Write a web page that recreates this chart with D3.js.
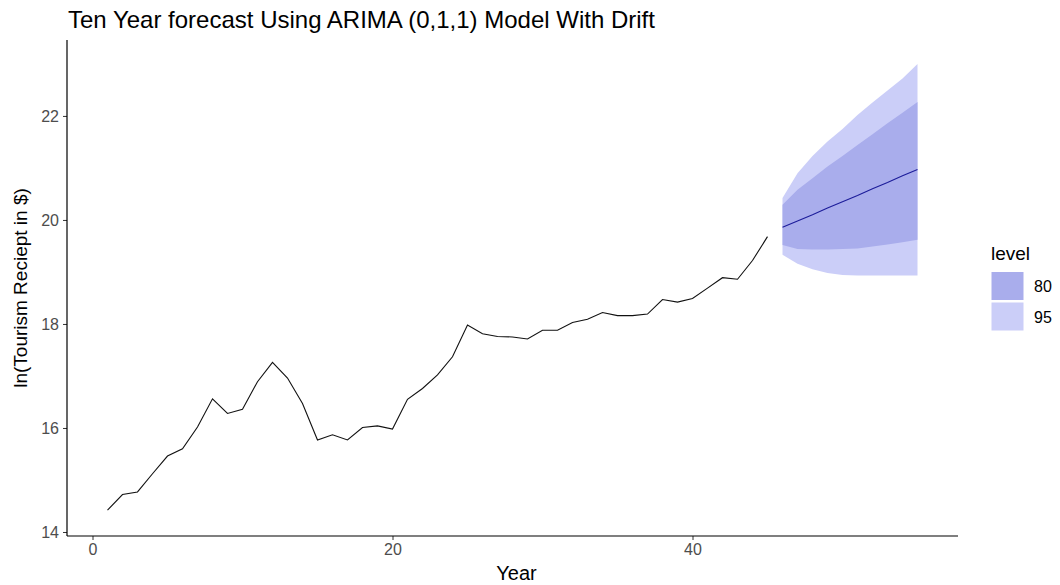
<!DOCTYPE html>
<html>
<head>
<meta charset="utf-8">
<script src="https://cdn.jsdelivr.net/npm/d3@7"></script>
<style>
  html, body { margin: 0; padding: 0; background: #fff; }
  svg { display: block; font-family: "Liberation Sans", Arial, sans-serif; }
</style>
</head>
<body>
<svg id="chart" width="1060" height="585"></svg>
<script>
// Observed series: ln(tourism receipts), years 1..45
const years = d3.range(1, 46);
const receipts = [
  14.42, 14.72, 14.77, 15.12, 15.46, 15.60, 16.02, 16.56, 16.28, 16.36,
  16.89, 17.26, 16.96, 16.47, 15.77, 15.87, 15.77, 16.01, 16.04, 15.98,
  16.55, 16.76, 17.02, 17.37, 17.98, 17.81, 17.76, 17.75, 17.71, 17.88,
  17.88, 18.03, 18.09, 18.22, 18.16, 18.16, 18.19, 18.47, 18.42, 18.49,
  18.69, 18.89, 18.86, 19.22, 19.68
];

// Ten-year forecast, years 46..55
const forecastYears = d3.range(46, 56);
const forecastMean = [19.86, 19.98, 20.10, 20.23, 20.35, 20.47, 20.60, 20.72, 20.85, 20.97];
const lo80 = [19.52, 19.44, 19.43, 19.43, 19.44, 19.45, 19.49, 19.53, 19.57, 19.62];
const hi80 = [20.29, 20.58, 20.80, 21.03, 21.23, 21.44, 21.65, 21.86, 22.06, 22.27];
const lo95 = [19.33, 19.16, 19.05, 18.98, 18.94, 18.93, 18.93, 18.93, 18.93, 18.93];
const hi95 = [20.42, 20.90, 21.23, 21.51, 21.75, 22.02, 22.26, 22.49, 22.72, 23.00];

const xTicks = [0, 20, 40];
const yTicks = [14, 16, 18, 20, 22];
const levels = ["80", "95"];
const levelColors = { "80": "#a9adec", "95": "#cbcef8" };

const svg = d3.select("#chart");
const panel = { left: 67, right: 958, top: 40, bottom: 536 };

const x = d3.scaleLinear().domain([-1.7, 57.7]).range([panel.left, panel.right]);
const y = d3.scaleLinear().domain([13.923, 23.46]).range([panel.bottom, panel.top]);

// Prediction intervals (95 first, 80 on top)
const bands = [
  { level: "95", lo: lo95, hi: hi95 },
  { level: "80", lo: lo80, hi: hi80 }
];
const area = d3.area()
  .x(d => x(d.t))
  .y0(d => y(d.lo))
  .y1(d => y(d.hi));
svg.append("g").selectAll("path")
  .data(bands)
  .join("path")
  .attr("d", b => area(forecastYears.map((t, i) => ({ t, lo: b.lo[i], hi: b.hi[i] }))))
  .attr("fill", b => levelColors[b.level]);

// Observed line
const line = d3.line().x(d => x(d[0])).y(d => y(d[1]));
svg.append("path")
  .attr("d", line(years.map((t, i) => [t, receipts[i]])))
  .attr("fill", "none")
  .attr("stroke", "#111")
  .attr("stroke-width", 1.1);

// Forecast mean
svg.append("path")
  .attr("d", line(forecastYears.map((t, i) => [t, forecastMean[i]])))
  .attr("fill", "none")
  .attr("stroke", "#1c1c9a")
  .attr("stroke-width", 1.1);

// Axes
const xAxis = d3.axisBottom(x).tickValues(xTicks).tickSize(4).tickPadding(4).tickFormat(d3.format("d"));
const yAxis = d3.axisLeft(y).tickValues(yTicks).tickSize(4).tickPadding(4).tickFormat(d3.format("d"));

const gx = svg.append("g").attr("transform", `translate(0,${panel.bottom})`).call(xAxis);
const gy = svg.append("g").attr("transform", `translate(${panel.left},0)`).call(yAxis);
[gx, gy].forEach(g => {
  g.select(".domain").remove();
  g.selectAll(".tick line").attr("stroke", "#333").attr("stroke-width", 1);
  g.selectAll(".tick text").attr("fill", "#4d4d4d").style("font-size", "16px")
    .style("font-family", "'Liberation Sans', Arial, sans-serif");
});
svg.append("line")
  .attr("x1", panel.left).attr("x2", panel.right)
  .attr("y1", panel.bottom).attr("y2", panel.bottom)
  .attr("stroke", "#000").attr("stroke-width", 1.2);
svg.append("line")
  .attr("x1", panel.left).attr("x2", panel.left)
  .attr("y1", panel.top).attr("y2", panel.bottom)
  .attr("stroke", "#000").attr("stroke-width", 1.2);

// Titles
svg.append("text")
  .attr("x", 68).attr("y", 28)
  .attr("fill", "#000")
  .style("font-size", "24px")
  .text("Ten Year forecast Using ARIMA (0,1,1) Model With Drift");

svg.append("text")
  .attr("x", (panel.left + panel.right) / 2 + 4).attr("y", 580)
  .attr("text-anchor", "middle")
  .attr("fill", "#000")
  .style("font-size", "20px")
  .text("Year");

svg.append("text")
  .attr("transform", `translate(27,${(panel.top + panel.bottom) / 2}) rotate(-90)`)
  .attr("text-anchor", "middle")
  .attr("fill", "#000")
  .style("font-size", "19px")
  .text("ln(Tourism Reciept in $)");

// Legend
const legend = svg.append("g").attr("transform", "translate(990,0)");
legend.append("text")
  .attr("x", 1).attr("y", 260)
  .attr("fill", "#000")
  .style("font-size", "19px")
  .text("level");
legend.selectAll("rect")
  .data(levels)
  .join("rect")
  .attr("x", 1.5).attr("y", (d, i) => 272 + i * 30.5)
  .attr("width", 32).attr("height", 28)
  .attr("fill", d => levelColors[d]);
legend.selectAll("text.lab")
  .data(levels)
  .join("text")
  .attr("class", "lab")
  .attr("x", 44).attr("y", (d, i) => 292 + i * 30.5)
  .attr("fill", "#000")
  .style("font-size", "16px")
  .text(d => d);
</script>
</body>
</html>
